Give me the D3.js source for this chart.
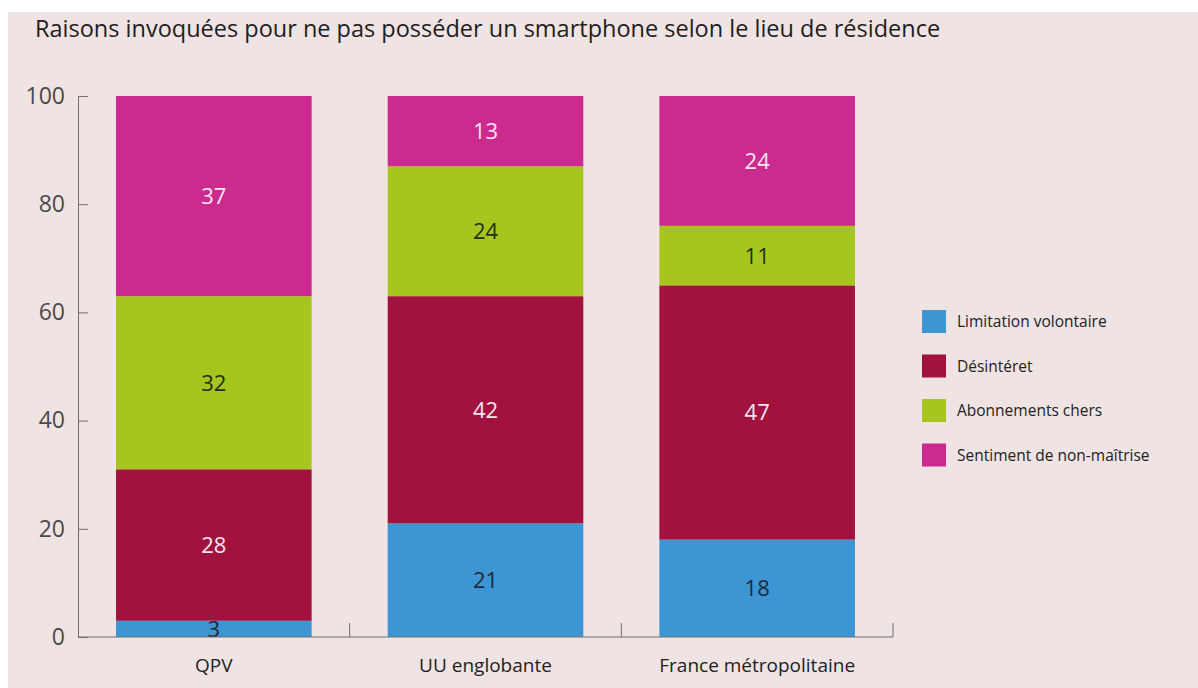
<!DOCTYPE html>
<html>
<head>
<meta charset="utf-8">
<script src="https://cdn.jsdelivr.net/npm/d3@7"></script>
<style>
body { margin: 0; background: #ffffff; }
svg { display: block; }
</style>
</head>
<body>
<div id="chart"></div>
<script>
chart_width = 1198;
chart_height = 688;

categories = ['QPV', 'UU englobante', 'France métropolitaine'];
series = ['Limitation volontaire', 'Désintéret', 'Abonnements chers', 'Sentiment de non-maîtrise'];
limitation = [3, 21, 18];
desinteret = [28, 42, 47];
abonnements = [32, 24, 11];
non_maitrise = [37, 13, 24];
y_ticks = [0, 20, 40, 60, 80, 100];

series_colors = ['#3d95d4', '#a2123e', '#a6c51e', '#cb2a8e'];
label_colors = ['#1d2a3a', '#f6e6ee', '#243018', '#f6e6ee'];

values = [limitation, desinteret, abonnements, non_maitrise];
table = categories.map(function(c, i) {
	row = { category: c };
	series.forEach(function(s, j) { row[s] = values[j][i]; });
	return row;
});

stack = d3.stack().keys(series);
stacked = stack(table);

margin = { left: 78, top: 96, right: 305, bottom: 51 };

x_scale = d3.scaleBand()
	.domain(categories)
	.range([margin.left, chart_width - margin.right])
	.paddingInner(0.28)
	.paddingOuter(0.14);

y_scale = d3.scaleLinear()
	.domain([0, 100])
	.range([chart_height - margin.bottom, margin.top]);

svg = d3.select('#chart')
	.append('svg')
	.attr('width', chart_width)
	.attr('height', chart_height)
	.style('font-family', '"Open Sans", sans-serif');

svg.append('rect')
	.attr('x', 8)
	.attr('y', 12)
	.attr('width', chart_width - 8)
	.attr('height', chart_height - 12)
	.attr('fill', '#efe3e3');

svg.append('text')
	.attr('x', 35)
	.attr('y', 37)
	.attr('font-size', 23.5)
	.attr('font-weight', 500)
	.attr('fill', '#1e1e1e')
	.text('Raisons invoquées pour ne pas posséder un smartphone selon le lieu de résidence');

// bars
groups = svg.selectAll('g.layer')
	.data(stacked)
	.enter()
	.append('g')
	.attr('class', 'layer')
	.attr('fill', (d, i) => series_colors[i]);

groups.selectAll('rect')
	.data((d) => d)
	.enter()
	.append('rect')
	.attr('x', (d) => x_scale(d.data.category))
	.attr('y', (d) => y_scale(d[1]))
	.attr('width', x_scale.bandwidth())
	.attr('height', (d) => y_scale(d[0]) - y_scale(d[1]));

// value labels
stacked.forEach(function(layer, i) {
	svg.selectAll(null)
		.data(layer)
		.enter()
		.append('text')
		.attr('x', (d) => x_scale(d.data.category) + x_scale.bandwidth() / 2)
		.attr('y', (d) => y_scale((d[0] + d[1]) / 2))
		.attr('dy', '0.36em')
		.attr('text-anchor', 'middle')
		.attr('font-size', 22)
		.attr('font-weight', 500)
		.attr('fill', label_colors[i])
		.text((d) => d[1] - d[0]);
});

// y axis
y_axis = svg.append('g')
	.attr('transform', 'translate(' + margin.left + ',0)')
	.call(d3.axisRight(y_scale).tickValues(y_ticks).tickSize(10).tickSizeOuter(0));
y_axis.select('.domain').attr('stroke', '#707070');
y_axis.selectAll('.tick line').attr('stroke', '#707070');
y_axis.selectAll('.tick text')
	.attr('x', -13)
	.attr('text-anchor', 'end')
	.attr('font-size', 23)
	.attr('font-family', '"Open Sans", sans-serif')
	.attr('fill', '#4a4a4a');

// x axis
x_axis_y = y_scale(0);
svg.append('line')
	.attr('x1', margin.left)
	.attr('x2', x_scale.range()[1])
	.attr('y1', x_axis_y)
	.attr('y2', x_axis_y)
	.attr('stroke', '#707070');

step = x_scale.step();
svg.selectAll('line.xtick')
	.data(categories)
	.enter()
	.append('line')
	.attr('class', 'xtick')
	.attr('x1', (d) => x_scale(d) + x_scale.bandwidth() / 2 + step / 2)
	.attr('x2', (d) => x_scale(d) + x_scale.bandwidth() / 2 + step / 2)
	.attr('y1', x_axis_y)
	.attr('y2', x_axis_y - 14)
	.attr('stroke', '#707070');

svg.selectAll('text.xlabel')
	.data(categories)
	.enter()
	.append('text')
	.attr('class', 'xlabel')
	.attr('x', (d) => x_scale(d) + x_scale.bandwidth() / 2)
	.attr('y', x_axis_y + 35)
	.attr('text-anchor', 'middle')
	.attr('font-size', 19)
	.attr('fill', '#222222')
	.text((d) => d);

// legend
legend = svg.selectAll('g.legend')
	.data(series)
	.enter()
	.append('g')
	.attr('class', 'legend')
	.attr('transform', (d, i) => 'translate(922,' + (310 + i * 44.5) + ')');

legend.append('rect')
	.attr('width', 24)
	.attr('height', 23)
	.attr('fill', (d, i) => series_colors[i]);

legend.append('text')
	.attr('x', 35)
	.attr('y', 12)
	.attr('dy', '0.35em')
	.attr('font-size', 15.5)
	.attr('font-weight', 500)
	.attr('fill', '#222222')
	.text((d) => d);
</script>
</body>
</html>
